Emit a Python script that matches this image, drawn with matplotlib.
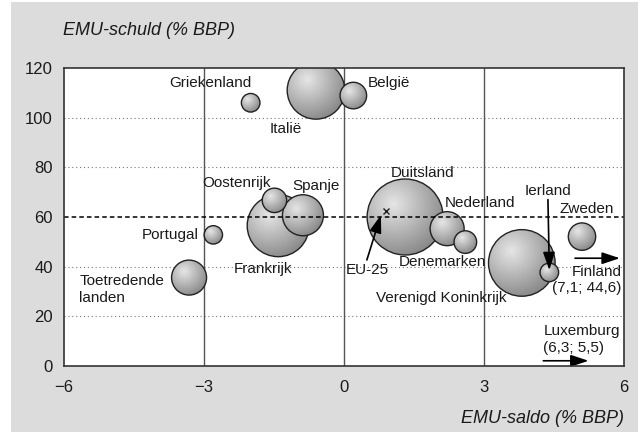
import numpy as np
import matplotlib.pyplot as plt
from matplotlib.patches import Circle, Rectangle
from matplotlib.transforms import ScaledTranslation

plt.rcParams['font.family'] = ['Liberation Sans', 'DejaVu Sans']

# EMU-saldo en EMU-schuld per land (% BBP), bubbelgrootte = omvang economie
landen = ['Duitsland', 'Verenigd Koninkrijk', 'Frankrijk', 'Italië', 'Spanje',
          'Toetredende landen', 'Nederland', 'Zweden', 'België', 'Oostenrijk',
          'Denemarken', 'Griekenland', 'Finland', 'Portugal']
saldo = [1.31, 3.81, -1.41, -0.60, -0.88, -3.32, 2.21, 5.10, 0.20, -1.49,
         2.60, -2.00, 4.40, -2.80]
schuld = [60.0, 41.5, 56.5, 111.0, 60.7, 35.6, 55.3, 52.1, 108.9, 66.7,
          49.9, 106.0, 37.7, 52.8]
omvang = [2256, 1733, 1502, 1296, 656, 478, 452, 293, 276, 233, 200, 135, 135, 132]

eu25 = (0.90, 62.3)
norm_schuld = 60

# labels: tekst, x, y (basislijn van de laatste regel), uitlijning
labels = [
    ('Griekenland', -2.86, 112.2, 'center'),
    ('Italië', -1.25, 94.0, 'center'),
    ('België', 0.50, 112.2, 'left'),
    ('Oostenrijk', -2.31, 72.0, 'center'),
    ('Spanje', -0.60, 70.9, 'center'),
    ('Portugal', -3.11, 51.0, 'right'),
    ('Toetredende\nlanden', -5.67, 25.9, 'left'),
    ('Frankrijk', -1.73, 37.3, 'center'),
    ('Duitsland', 1.68, 76.2, 'center'),
    ('Nederland', 2.92, 64.2, 'center'),
    ('Ierland', 4.38, 68.9, 'center'),
    ('Zweden', 5.21, 61.7, 'center'),
    ('EU-25', 0.51, 37.1, 'center'),
    ('Denemarken', 2.10, 40.4, 'center'),
    ('Verenigd Koninkrijk', 2.08, 25.7, 'center'),
    ('Finland\n(7,1; 44,6)', 5.95, 29.9, 'right'),
    ('Luxemburg\n(6,3; 5,5)', 4.27, 5.8, 'left'),
]

# pijlen: (van, naar)
pijlen = [
    ((0.49, 42.7), (0.79, 60.8)),
    ((4.37, 67.0), (4.40, 38.6)),
    ((4.95, 43.4), (5.91, 43.4)),
    ((4.27, 2.1), (5.24, 2.1)),
]

fig = plt.figure(figsize=(6.4, 4.32), dpi=100)
fig.patches.append(Rectangle((11 / 640, 0), 627 / 640, 430 / 432,
                             transform=fig.transFigure, facecolor='#dcdcdc',
                             edgecolor='none', zorder=-1))
ax = fig.add_axes([0.1, 0.1528, 0.875, 0.6898])
ax.set_xlim(-6, 6)
ax.set_ylim(0, 120)
ax.set_autoscale_on(False)

for y in [20, 40, 80, 100]:
    ax.axhline(y, color='#777777', lw=0.8, ls=(0, (1, 2.5)), zorder=1)
for x in [-3, 0, 3]:
    ax.axvline(x, color='#555555', lw=1.0, zorder=1)

# bolletjes met grijze schaduw
yy, xx = np.mgrid[-1:1:200j, -1:1:200j]
shade = 0.9 - 0.38 * np.clip(np.hypot(xx + 0.3, yy - 0.35) / 1.5, 0, 1)

for i, (x, y, v) in enumerate(zip(saldo, schuld, omvang)):
    r = 0.008 * np.sqrt(v)
    z = 2 + i * 0.01
    trans = fig.dpi_scale_trans + ScaledTranslation(x, y, ax.transData)
    circ = Circle((0, 0), r, transform=trans, facecolor='none',
                  edgecolor='#222222', lw=1.0, zorder=z + 0.005)
    ax.add_patch(circ)
    cx, cy = ax.transData.transform((x, y))
    rp = r * fig.dpi
    (x0, y0), (x1, y1) = ax.transData.inverted().transform(
        [(cx - rp, cy - rp), (cx + rp, cy + rp)])
    im = ax.imshow(shade, cmap='gray', vmin=0, vmax=1, extent=(x0, x1, y0, y1),
                   origin='lower', aspect='auto', interpolation='bilinear', zorder=z)
    im.set_clip_path(circ)
    im.set_clip_box(ax.bbox)

ax.axhline(norm_schuld, color='black', lw=1.1, ls=(0, (3, 2)), zorder=5)
ax.plot(*eu25, marker='x', color='#222222', ms=5, mew=1.0, zorder=6)

for tekst, x, y, ha in labels:
    ax.text(x, y, tekst, ha=ha, va='baseline', fontsize=11, color='#1a1a1a',
            linespacing=1.2, zorder=7)

for van, naar in pijlen:
    ax.annotate('', xy=naar, xytext=van, zorder=7,
                arrowprops=dict(arrowstyle='-|>,head_length=0.9,head_width=0.3',
                                color='black', lw=1.2, shrinkA=0, shrinkB=0,
                                mutation_scale=12))

ax.set_xticks([-6, -3, 0, 3, 6])
ax.set_yticks(range(0, 121, 20))
ax.tick_params(length=0, labelsize=12, colors='#1a1a1a')
ax.tick_params(axis='x', pad=10)
ax.tick_params(axis='y', pad=8)
for s in ax.spines.values():
    s.set_color('#333333')
    s.set_linewidth(1.2)
    s.set_zorder(10)

fig.text(0.098, 0.919, 'EMU-schuld (% BBP)', style='italic', fontsize=13,
         color='#1a1a1a', va='baseline')
fig.text(0.975, 0.0215, 'EMU-saldo (% BBP)', style='italic', fontsize=13,
         color='#1a1a1a', va='baseline', ha='right')

fig.savefig('out.png', dpi=100)
